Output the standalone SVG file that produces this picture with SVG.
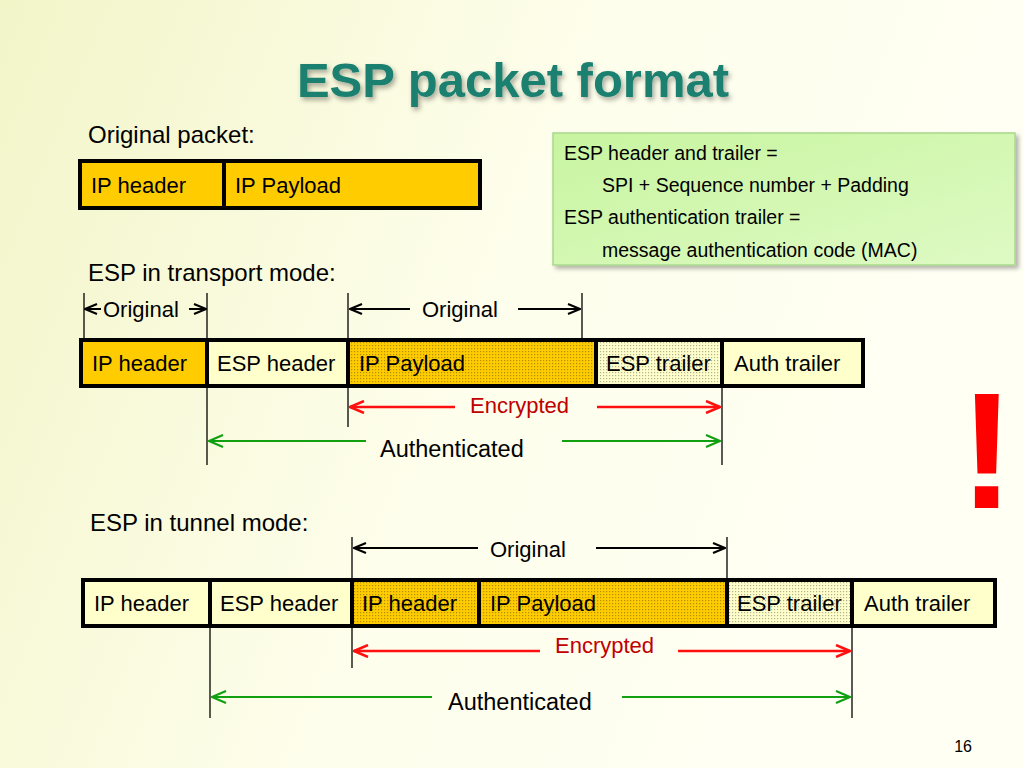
<svg xmlns="http://www.w3.org/2000/svg" width="1024" height="768" viewBox="0 0 1024 768">
<defs>
<linearGradient id="bg" x1="0" y1="0" x2="1" y2="0.3">
<stop offset="0" stop-color="#F2F5C8"/>
<stop offset="0.55" stop-color="#FEFEEC"/>
<stop offset="1" stop-color="#FFFFF4"/>
</linearGradient>
<linearGradient id="gbox" x1="0" y1="0" x2="1" y2="1">
<stop offset="0" stop-color="#C8F5A0"/>
<stop offset="1" stop-color="#DEFAC4"/>
</linearGradient>
<pattern id="dots" width="3" height="3" patternUnits="userSpaceOnUse">
<rect x="0" y="0" width="1.2" height="1.2" fill="#000" fill-opacity="0.3"/>
</pattern>
<filter id="tshadow" x="-10%" y="-20%" width="120%" height="150%">
<feGaussianBlur in="SourceAlpha" stdDeviation="2.5"/>
<feOffset dx="2" dy="3" result="b"/>
<feFlood flood-color="#000" flood-opacity="0.35"/>
<feComposite in2="b" operator="in" result="s"/>
<feMerge><feMergeNode in="s"/><feMergeNode in="SourceGraphic"/></feMerge>
</filter>
<filter id="bshadow" x="-5%" y="-10%" width="112%" height="125%">
<feGaussianBlur in="SourceAlpha" stdDeviation="2"/>
<feOffset dx="3" dy="3" result="b"/>
<feFlood flood-color="#000" flood-opacity="0.3"/>
<feComposite in2="b" operator="in" result="s"/>
<feMerge><feMergeNode in="s"/><feMergeNode in="SourceGraphic"/></feMerge>
</filter>
<marker id="mk" viewBox="0 0 14 12" refX="13" refY="6" markerWidth="14" markerHeight="12" markerUnits="userSpaceOnUse" orient="auto-start-reverse">
<path d="M1,1 L13,6 L1,11" fill="none" stroke="#000" stroke-width="2"/>
</marker>
<marker id="mr" viewBox="0 0 16 14" refX="15" refY="7" markerWidth="16" markerHeight="14" markerUnits="userSpaceOnUse" orient="auto-start-reverse">
<path d="M1,1 L15,7 L1,13" fill="none" stroke="#FF1010" stroke-width="2.5"/>
</marker>
<marker id="mg" viewBox="0 0 16 14" refX="15" refY="7" markerWidth="16" markerHeight="14" markerUnits="userSpaceOnUse" orient="auto-start-reverse">
<path d="M1,1 L15,7 L1,13" fill="none" stroke="#10A010" stroke-width="2.2"/>
</marker>
</defs>
<style>
text { font-family: "Liberation Sans", Arial, sans-serif; fill: #000; }
.lbl { font-size: 24px; }
.cell { font-size: 22px; }
.note { font-size: 19.5px; }
.arr { font-size: 22px; }
.enc { font-size: 22px; fill: #C00000; }
.auth { font-size: 23.5px; }
.frame { fill: none; stroke: #000; stroke-width: 4; }
.div { stroke: #000; stroke-width: 4; }
.tick { stroke: #000; stroke-width: 1.3; }
.ka { stroke: #000; stroke-width: 2; fill: none; }
.ra { stroke: #FF1010; stroke-width: 2.5; fill: none; }
.ga { stroke: #10A010; stroke-width: 2.2; fill: none; }
.or { fill: #FFCC00; }
.ly { fill: #FFFFCC; }
.dt { fill: url(#dots); }
</style>
<rect width="1024" height="768" fill="url(#bg)"/>

<text x="513" y="97" text-anchor="middle" font-size="49" font-weight="bold" style="fill:#1B806F" filter="url(#tshadow)">ESP packet format</text>

<g id="original-packet">
<text class="lbl" x="88" y="143">Original packet:</text>
<rect class="or" x="80" y="161" width="400" height="47"/>
<rect class="frame" x="80" y="161" width="400" height="47"/>
<line class="div" x1="224" y1="161" x2="224" y2="208"/>
<text class="cell" x="91" y="193">IP header</text>
<text class="cell" x="235" y="193">IP Payload</text>
</g>

<g id="legend" filter="url(#bshadow)">
<rect x="553" y="133" width="462" height="132" fill="url(#gbox)" stroke="#A8D88C" stroke-width="1.5"/>
</g>
<g id="legend-text">
<text class="note" x="564" y="160">ESP header and trailer =</text>
<text class="note" x="602" y="192">SPI + Sequence number + Padding</text>
<text class="note" x="564" y="224">ESP authentication trailer =</text>
<text class="note" x="602" y="257">message authentication code (MAC)</text>
</g>

<g id="transport-mode">
<text class="lbl" x="88" y="281">ESP in transport mode:</text>
<rect class="or" x="81" y="340" width="126" height="46"/>
<rect class="ly" x="207" y="340" width="141" height="46"/>
<rect class="or" x="348" y="340" width="248" height="46"/>
<rect class="dt" x="348" y="340" width="248" height="46"/>
<rect class="ly" x="596" y="340" width="126" height="46"/>
<rect class="dt" x="596" y="340" width="126" height="46"/>
<rect class="ly" x="722" y="340" width="141" height="46"/>
<rect class="frame" x="81" y="340" width="782" height="46"/>
<line class="div" x1="207" y1="340" x2="207" y2="386"/>
<line class="div" x1="348" y1="340" x2="348" y2="386"/>
<line class="div" x1="596" y1="340" x2="596" y2="386"/>
<line class="div" x1="722" y1="340" x2="722" y2="386"/>
<text class="cell" x="92" y="371">IP header</text>
<text class="cell" x="217" y="371">ESP header</text>
<text class="cell" x="359" y="371">IP Payload</text>
<text class="cell" x="606" y="371">ESP trailer</text>
<text class="cell" x="734" y="371">Auth trailer</text>
</g>

<g id="tunnel-mode">
<text class="lbl" x="90" y="531">ESP in tunnel mode:</text>
<rect class="ly" x="83" y="580" width="127" height="46"/>
<rect class="ly" x="210" y="580" width="142" height="46"/>
<rect class="or" x="352" y="580" width="127" height="46"/>
<rect class="dt" x="352" y="580" width="127" height="46"/>
<rect class="or" x="479" y="580" width="248" height="46"/>
<rect class="dt" x="479" y="580" width="248" height="46"/>
<rect class="ly" x="727" y="580" width="125" height="46"/>
<rect class="dt" x="727" y="580" width="125" height="46"/>
<rect class="ly" x="852" y="580" width="143" height="46"/>
<rect class="frame" x="83" y="580" width="912" height="46"/>
<line class="div" x1="210" y1="580" x2="210" y2="626"/>
<line class="div" x1="352" y1="580" x2="352" y2="626"/>
<line class="div" x1="479" y1="580" x2="479" y2="626"/>
<line class="div" x1="727" y1="580" x2="727" y2="626"/>
<line class="div" x1="852" y1="580" x2="852" y2="626"/>
<text class="cell" x="94" y="611">IP header</text>
<text class="cell" x="220" y="611">ESP header</text>
<text class="cell" x="362" y="611">IP header</text>
<text class="cell" x="490" y="611">IP Payload</text>
<text class="cell" x="737" y="611">ESP trailer</text>
<text class="cell" x="864" y="611">Auth trailer</text>
</g>

<g id="connectors">
<line class="tick" x1="84" y1="293" x2="84" y2="338"/>
<line class="tick" x1="207" y1="293" x2="207" y2="338"/>
<line class="tick" x1="207" y1="388" x2="207" y2="465"/>
<line class="tick" x1="348" y1="293" x2="348" y2="338"/>
<line class="tick" x1="348" y1="388" x2="348" y2="427"/>
<line class="tick" x1="582" y1="293" x2="582" y2="338"/>
<line class="tick" x1="722" y1="388" x2="722" y2="465"/>
<line class="ka" x1="101" y1="309" x2="85" y2="309" marker-end="url(#mk)"/>
<line class="ka" x1="189" y1="309" x2="206" y2="309" marker-end="url(#mk)"/>
<line class="ka" x1="410" y1="309" x2="350" y2="309" marker-end="url(#mk)"/>
<line class="ka" x1="518" y1="309" x2="580" y2="309" marker-end="url(#mk)"/>
<line class="ra" x1="455" y1="407" x2="350" y2="407" marker-end="url(#mr)"/>
<line class="ra" x1="597" y1="407" x2="720" y2="407" marker-end="url(#mr)"/>
<line class="ga" x1="366" y1="441" x2="209" y2="441" marker-end="url(#mg)"/>
<line class="ga" x1="562" y1="441" x2="720" y2="441" marker-end="url(#mg)"/>

<line class="tick" x1="352" y1="537" x2="352" y2="578"/>
<line class="tick" x1="352" y1="628" x2="352" y2="668"/>
<line class="tick" x1="727" y1="537" x2="727" y2="578"/>
<line class="tick" x1="210" y1="628" x2="210" y2="718"/>
<line class="tick" x1="852" y1="628" x2="852" y2="718"/>
<line class="ka" x1="478" y1="548" x2="354" y2="548" marker-end="url(#mk)"/>
<line class="ka" x1="596" y1="548" x2="725" y2="548" marker-end="url(#mk)"/>
<line class="ra" x1="540" y1="651" x2="354" y2="651" marker-end="url(#mr)"/>
<line class="ra" x1="678" y1="651" x2="850" y2="651" marker-end="url(#mr)"/>
<line class="ga" x1="432" y1="697" x2="212" y2="697" marker-end="url(#mg)"/>
<line class="ga" x1="622" y1="697" x2="850" y2="697" marker-end="url(#mg)"/>
</g>

<g id="connector-labels">
<text class="arr" x="103" y="317">Original</text>
<text class="arr" x="422" y="317">Original</text>
<text class="enc" x="470" y="413">Encrypted</text>
<text class="auth" x="380" y="457">Authenticated</text>
<text class="arr" x="490" y="557">Original</text>
<text class="enc" x="555" y="653">Encrypted</text>
<text class="auth" x="448" y="710">Authenticated</text>
</g>

<text x="987" y="508" text-anchor="middle" font-size="166" font-weight="bold" style="fill:#FF0000">!</text>
<text x="972" y="752" text-anchor="end" font-size="16">16</text>
</svg>
